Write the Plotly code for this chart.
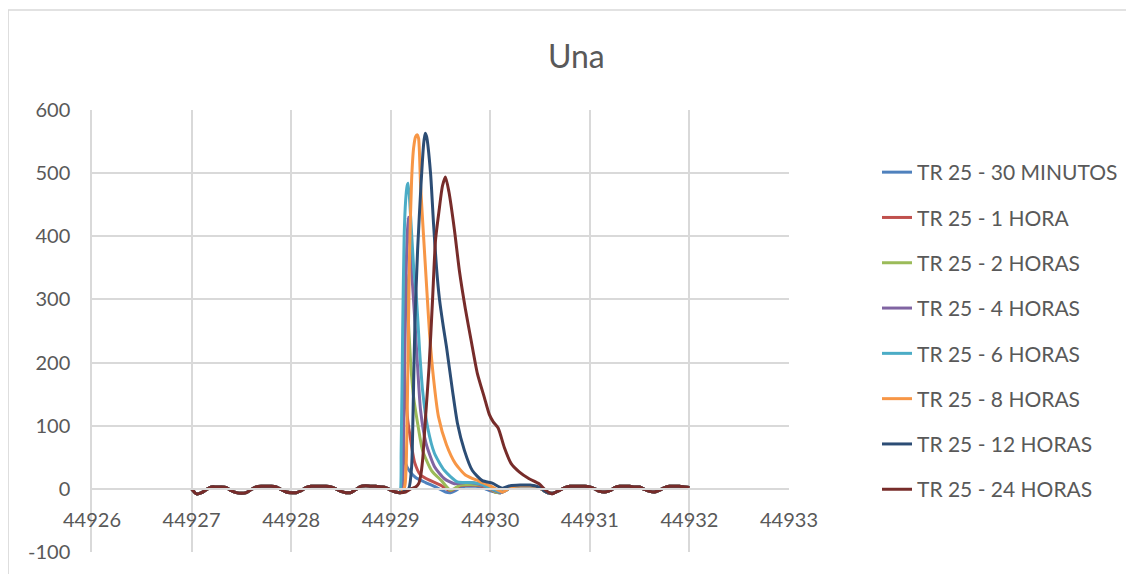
import plotly.graph_objects as go

# ---------------- data ----------------
SERIES_NAMES = [
    "TR 25 - 30 MINUTOS", "TR 25 - 1 HORA", "TR 25 - 2 HORAS", "TR 25 - 4 HORAS",
    "TR 25 - 6 HORAS", "TR 25 - 8 HORAS", "TR 25 - 12 HORAS", "TR 25 - 24 HORAS",
]
SERIES_COLORS = ["#4F81BD", "#C0504D", "#9BBB59", "#8064A2",
                 "#4BACC6", "#F79646", "#2C4D75", "#772C2A"]

# shared (tidal) base flow, common to all series outside the flood wave
BASE_T = [44927.00, 44927.05, 44927.10, 44927.15, 44927.20, 44927.25, 44927.30, 44927.35, 44927.40, 44927.45,
          44927.50, 44927.55, 44927.60, 44927.65, 44927.70, 44927.75, 44927.80, 44927.85, 44927.90, 44927.95,
          44928.00, 44928.05, 44928.10, 44928.15, 44928.20, 44928.25, 44928.30, 44928.35, 44928.40, 44928.45,
          44928.50, 44928.55, 44928.60, 44928.65, 44928.70, 44928.75, 44928.80, 44928.85, 44928.90, 44928.95,
          44929.00, 44929.05, 44929.10, 44929.15, 44929.20, 44929.25, 44929.30, 44929.35, 44929.40, 44929.45,
          44929.50, 44929.55, 44929.60, 44929.65, 44929.70, 44929.75, 44929.80, 44929.85, 44929.90, 44929.95,
          44930.00, 44930.05, 44930.10, 44930.15, 44930.20, 44930.25, 44930.30, 44930.35, 44930.40, 44930.45,
          44930.50, 44930.55, 44930.60, 44930.65, 44930.70, 44930.75, 44930.80, 44930.85, 44930.90, 44930.95,
          44931.00, 44931.05, 44931.10, 44931.15, 44931.20, 44931.25, 44931.30, 44931.35, 44931.40, 44931.45,
          44931.50, 44931.55, 44931.60, 44931.65, 44931.70, 44931.75, 44931.80, 44931.85, 44931.90, 44931.95,
          44932.00]
BASE_V = [0, -8, -6, -1, 3, 3, 3, 2, -3, -6,
          -7, -6, -1, 3, 4, 4, 4, 3, -1, -5,
          -6, -6, -3, 2, 4, 4, 4, 4, 3, 0,
          -4, -6, -6, -1, 4, 5, 4, 4, 3, 2,
          -2, -5, -6, -5, 0, 3, 4, 4, 4, 2,
          -2, -5, -6, -3, 2, 4, 4, 4, 3, 0,
          -3, -5, -6, -3, 2, 4, 5, 5, 5, 4,
          1, -4, -7, -6, -2, 2, 4, 4, 4, 4,
          3, 0, -4, -5, -3, 2, 4, 4, 4, 3,
          3, -1, -4, -5, -2, 2, 4, 4, 4, 3,
          2]

# flood-wave portion of each series
S30M_T = [44929.10, 44929.11, 44929.12, 44929.13, 44929.15, 44929.19, 44929.25, 44929.35, 44929.45, 44929.55]
S30M_V = [-6, 20, 72, 60, 40, 28, 18, 10, 3, -5]

S1H_T = [44929.10, 44929.12, 44929.13, 44929.135, 44929.15, 44929.17, 44929.19, 44929.24, 44929.30,
         44929.40, 44929.50, 44929.60, 44929.70, 44929.80, 44929.90, 44930.00]
S1H_V = [-6, 10, 120, 187, 150, 110, 88, 42, 22, 13, 6, -3, 5, 6, 5, -1]

S2H_T = [44929.10, 44929.12, 44929.14, 44929.155, 44929.17, 44929.20, 44929.23, 44929.27, 44929.32,
         44929.41, 44929.51, 44929.60, 44929.70, 44929.80, 44929.90, 44930.00]
S2H_V = [-6, 40, 250, 340, 290, 200, 145, 104, 61, 29, 13, -2, 6, 7, 6, 0]

S4H_T = [44929.10, 44929.12, 44929.14, 44929.16, 44929.175, 44929.20, 44929.24, 44929.27, 44929.30,
         44929.355, 44929.44, 44929.54, 44929.64, 44929.75, 44929.85, 44929.95, 44930.05]
S4H_V = [-6, 30, 200, 380, 430, 370, 272, 193, 124, 72, 35, 16, 8, 10, 9, 4, -3]

S6H_T = [44929.09, 44929.105, 44929.12, 44929.135, 44929.15, 44929.165, 44929.175, 44929.20, 44929.23,
         44929.26, 44929.29, 44929.32, 44929.37, 44929.44, 44929.54, 44929.67, 44929.80, 44929.90,
         44930.00, 44930.10]
S6H_V = [-6, 60, 250, 400, 457, 480, 484, 431, 351, 299, 219, 156, 98, 56, 29, 11, 10, 8, 1, -5]

S8H_T = [44929.10, 44929.14, 44929.155, 44929.165, 44929.175, 44929.19, 44929.21, 44929.23, 44929.25,
         44929.265, 44929.28, 44929.30, 44929.33, 44929.36, 44929.39, 44929.43, 44929.48, 44929.56,
         44929.65, 44929.75, 44929.89, 44930.02, 44930.12]
S8H_V = [-6, 3, 35, 114, 219, 378, 490, 540, 558, 561, 555, 480, 400, 322, 246, 175, 114, 70, 40, 22, 12, 3, -5]

S12H_T = [44929.10, 44929.18, 44929.21, 44929.22, 44929.23, 44929.245, 44929.27, 44929.305, 44929.33,
          44929.345, 44929.36, 44929.40, 44929.43, 44929.46, 44929.49, 44929.53, 44929.56, 44929.62,
          44929.67, 44929.74, 44929.82, 44929.92, 44930.02, 44930.12, 44930.20, 44930.30, 44930.40,
          44930.50]
S12H_V = [-6, 0, 35, 87, 167, 272, 378, 484, 545, 563, 558, 500, 420, 350, 300, 255, 225, 156,
          104, 61, 29, 13, 9, 1, 5, 6, 6, 2]

S24H_T = [44929.25, 44929.28, 44929.30, 44929.32, 44929.35, 44929.385, 44929.42, 44929.45, 44929.485,
          44929.52, 44929.55, 44929.585, 44929.64, 44929.69, 44929.75, 44929.81, 44929.87, 44929.94,
          44929.99, 44930.03, 44930.08, 44930.14, 44930.21, 44930.29, 44930.39, 44930.49, 44930.555,
          44930.62, 44930.66]
S24H_V = [3, 8, 20, 45, 114, 193, 299, 394, 440, 480, 494, 470, 410, 345, 285, 233, 183, 145,
          118, 106, 96, 66, 40, 27, 16, 8, -2, -8, -5]

STORMS = [(S30M_T, S30M_V), (S1H_T, S1H_V), (S2H_T, S2H_V), (S4H_T, S4H_V),
          (S6H_T, S6H_V), (S8H_T, S8H_V), (S12H_T, S12H_V), (S24H_T, S24H_V)]

X_TICKS = [44926, 44927, 44928, 44929, 44930, 44931, 44932, 44933]
Y_TICKS = [-100, 0, 100, 200, 300, 400, 500, 600]
Y_TICK_LABELS = ["-100", "0", "100", "200", "300", "400", "500", "600"]


def combine(st, sv):
    xs, ys = [], []
    for t, v in zip(BASE_T, BASE_V):
        if t < st[0] - 1e-9:
            xs.append(t); ys.append(v)
    xs += st; ys += sv
    for t, v in zip(BASE_T, BASE_V):
        if t > st[-1] + 1e-9:
            xs.append(t); ys.append(v)
    return xs, ys


TXT = "#595959"
GRID = "#D9D9D9"
FONT = "Lato"

fig = go.Figure()
for i, (name, col) in enumerate(zip(SERIES_NAMES, SERIES_COLORS)):
    xs, ys = combine(*STORMS[i])
    fig.add_trace(go.Scatter(x=xs, y=ys, mode="lines", name=name,
                             legendgroup=f"g{i}",
                             line=dict(color=col, width=3, shape="spline", smoothing=0.6)))

# page has an 8px body margin: work in figure coordinates = page - 8
OFF = 8
W, H = 1134 - OFF, 574 - OFF
PL, PR, PT, PB = 92 - OFF, 790 - OFF, 110 - OFF, 552 - OFF
L, R, T, B = PL, W - PR, PT, H - PB
pw, ph = PR - PL, PB - PT


def px(xp):
    return (xp - OFF - PL) / pw


def py(yp):
    return (PB - (yp - OFF)) / ph


fig.update_layout(
    width=W, height=H,
    margin=dict(l=L, r=R, t=T, b=B, pad=0),
    paper_bgcolor="white", plot_bgcolor="white",
    font=dict(family=FONT, color=TXT, size=20),
    title=dict(text="Una", x=px(577), xref="paper", xanchor="center",
               y=1 - (57 - OFF) / H, yanchor="middle", font=dict(size=32, color=TXT, family=FONT)),
    showlegend=True,
    legend=dict(x=px(877), y=py(152), xanchor="left", yanchor="top",
                font=dict(size=21, color=TXT, family=FONT), tracegroupgap=15,
                bgcolor="rgba(0,0,0,0)", itemwidth=30),
    xaxis=dict(range=[X_TICKS[0], X_TICKS[-1]], tickvals=X_TICKS, ticktext=[str(v) for v in X_TICKS],
               showgrid=True, gridcolor=GRID, gridwidth=1.5,
               anchor="free", position=(0 - Y_TICKS[0]) / (Y_TICKS[-1] - Y_TICKS[0]),
               showline=True, linecolor=GRID, linewidth=1.5, ticks="", zeroline=False,
               ticklabelstandoff=13, tickfont=dict(size=20, color=TXT)),
    yaxis=dict(range=[Y_TICKS[0], Y_TICKS[-1]], tickvals=Y_TICKS, ticktext=Y_TICK_LABELS,
               showgrid=True, gridcolor=GRID,
               gridwidth=1.5, zeroline=False, showline=True, linecolor=GRID, linewidth=1.5,
               ticks="", ticklabelstandoff=16, tickfont=dict(size=20, color=TXT)),
)

# outer chart border
fig.add_shape(type="rect", xref="paper", yref="paper",
              x0=px(8), x1=px(1140), y0=py(580), y1=py(10),
              line=dict(color=GRID, width=1.5), fillcolor="rgba(0,0,0,0)", layer="below")

fig.write_html("out.html")
